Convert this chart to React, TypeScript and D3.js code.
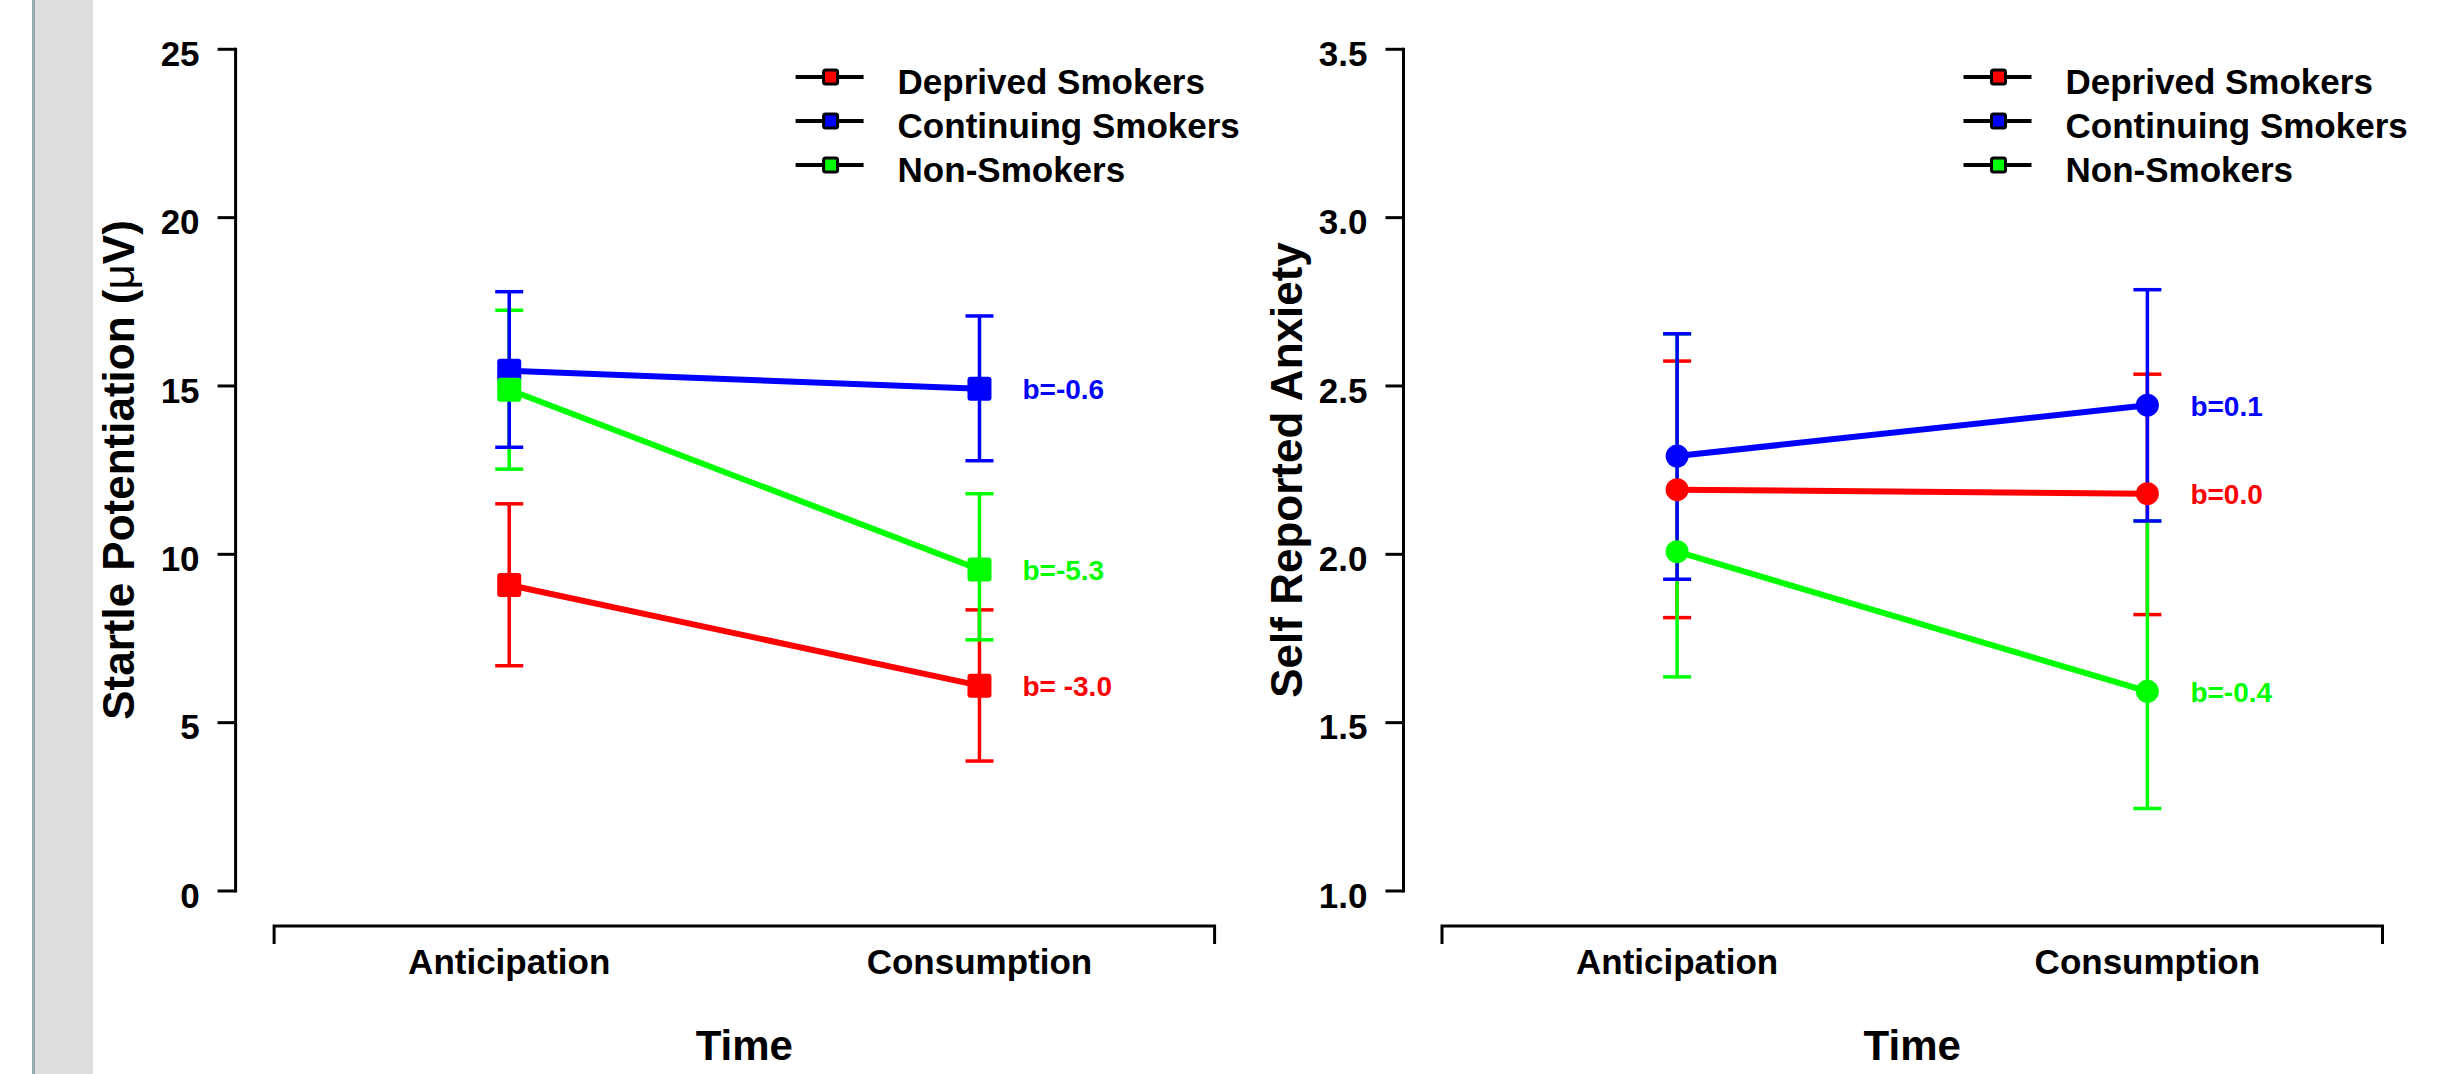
import React from "react";
import * as d3 from "d3";

const timePoints = ["Anticipation", "Consumption"];
const groupNames = ["Deprived Smokers", "Continuing Smokers", "Non-Smokers"];
const groupColors = ["#ff0000", "#0000ff", "#00ff00"];

// startle potentiation (uV), one row per group: [anticipation, consumption]
const startleMean = [[9.09, 6.1], [15.45, 14.92], [14.89, 9.55]];
const startleLow = [[6.69, 3.86], [13.18, 12.78], [12.53, 7.46]];
const startleHigh = [[11.5, 8.35], [17.8, 17.08], [17.25, 11.8]];
const startleSlope = ["b= -3.0", "b=-0.6", "b=-5.3"];
const startleTicks = [0, 5, 10, 15, 20, 25];

// self reported anxiety
const anxietyMean = [[2.192, 2.18], [2.292, 2.443], [2.008, 1.593]];
const anxietyLow = [[1.812, 1.821], [1.926, 2.099], [1.636, 1.245]];
const anxietyHigh = [[2.574, 2.535], [2.655, 2.786], [2.655, 2.099]];
const anxietySlope = ["b=0.0", "b=0.1", "b=-0.4"];
const anxietyTicks = [1.0, 1.5, 2.0, 2.5, 3.0, 3.5];

const FONT = "'Liberation Sans', Arial, Helvetica, sans-serif";
const TOP = 49.3;
const BOTTOM = 891;

function Panel({ axisX, domain, ticks, fmt, title, means, lows, highs, slopes, shape }) {
  const y = d3.scaleLinear().domain(domain).range([BOTTOM, TOP]);
  const x = d3.scaleBand().domain(timePoints).range([axisX + 38.5, axisX + 979]);
  const cx = (i) => x(timePoints[i]) + x.bandwidth() / 2;
  const line = d3.line().x((_, i) => cx(i)).y((v) => y(v));
  const errOrder = [0, 2, 1];
  const drawOrder = [0, 1, 2];
  const [x0, x1] = x.range();

  return (
    <g fontFamily={FONT} fontWeight="bold">
      {/* y axis */}
      <line x1={axisX} x2={axisX} y1={TOP} y2={BOTTOM} stroke="#000" strokeWidth={3} strokeLinecap="square" />
      {ticks.map((t) => (
        <g key={t}>
          <line x1={axisX - 18} x2={axisX} y1={y(t)} y2={y(t)} stroke="#000" strokeWidth={3} />
          <text x={axisX - 36} y={y(t) + 16.7} fontSize={35} textAnchor="end">
            {fmt(t)}
          </text>
        </g>
      ))}
      <text transform={`translate(${axisX - 101.6},470) rotate(-90)`} fontSize={44} textAnchor="middle">
        {title}
      </text>

      {/* x axis bracket */}
      <path d={`M${x0},944 V926 H${x1} V944`} fill="none" stroke="#000" strokeWidth={3} />
      {timePoints.map((t, i) => (
        <text key={t} x={cx(i)} y={974} fontSize={35} textAnchor="middle">
          {t}
        </text>
      ))}
      <text x={(x0 + x1) / 2} y={1060} fontSize={42} textAnchor="middle">
        Time
      </text>

      {/* error bars */}
      {errOrder.map((g) =>
        timePoints.map((_, i) => (
          <g key={`e${g}${i}`} stroke={groupColors[g]} strokeWidth={3.5}>
            <line x1={cx(i)} x2={cx(i)} y1={y(highs[g][i])} y2={y(lows[g][i])} />
            <line x1={cx(i) - 14} x2={cx(i) + 14} y1={y(highs[g][i])} y2={y(highs[g][i])} />
            <line x1={cx(i) - 14} x2={cx(i) + 14} y1={y(lows[g][i])} y2={y(lows[g][i])} />
          </g>
        ))
      )}

      {/* lines and points */}
      {drawOrder.map((g) => (
        <g key={`s${g}`}>
          <path d={line(means[g])} fill="none" stroke={groupColors[g]} strokeWidth={6} />
          {means[g].map((v, i) =>
            shape === "square" ? (
              <rect key={i} x={cx(i) - 12} y={y(v) - 12} width={24} height={24} rx={3} fill={groupColors[g]} />
            ) : (
              <circle key={i} cx={cx(i)} cy={y(v)} r={11.5} fill={groupColors[g]} />
            )
          )}
          <text x={cx(1) + 43} y={y(means[g][1]) + 10.5} fontSize={28} fill={groupColors[g]}>
            {slopes[g]}
          </text>
        </g>
      ))}

      {/* legend */}
      {groupNames.map((name, g) => {
        const ly = 77 + g * 44;
        return (
          <g key={name}>
            <line x1={axisX + 560} x2={axisX + 628} y1={ly} y2={ly} stroke="#000" strokeWidth={4} />
            <rect x={axisX + 588} y={ly - 7} width={14} height={14} rx={2} fill={groupColors[g]} stroke="#000" strokeWidth={3} />
            <text x={axisX + 662} y={ly + 16.7} fontSize={35}>
              {name}
            </text>
          </g>
        );
      })}
    </g>
  );
}

export default function App() {
  const intFmt = d3.format("d");
  const decFmt = d3.format(".1f");
  return (
    <svg
      width={2454}
      height={1074}
      style={{ position: "absolute", left: 0, top: 0, background: "#fff" }}
    >
      <rect x={0} y={0} width={2454} height={1074} fill="#fff" />
      <rect x={32} y={0} width={3} height={1074} fill="#93acac" />
      <rect x={35} y={0} width={58} height={1074} fill="#dedede" />
      <Panel
        axisX={235.6}
        domain={[0, 25]}
        ticks={startleTicks}
        fmt={intFmt}
        title={
          <>
            Startle Potentiation (<tspan fontWeight="normal">μ</tspan>V)
          </>
        }
        means={startleMean}
        lows={startleLow}
        highs={startleHigh}
        slopes={startleSlope}
        shape="square"
      />
      <Panel
        axisX={1403.5}
        domain={[1, 3.5]}
        ticks={anxietyTicks}
        fmt={decFmt}
        title="Self Reported Anxiety"
        means={anxietyMean}
        lows={anxietyLow}
        highs={anxietyHigh}
        slopes={anxietySlope}
        shape="circle"
      />
    </svg>
  );
}
